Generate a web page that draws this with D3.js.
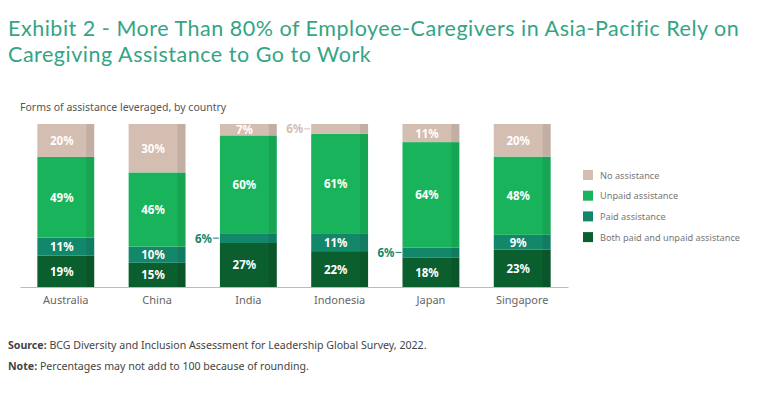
<!DOCTYPE html>
<html>
<head>
<meta charset="utf-8">
<script src="https://cdn.jsdelivr.net/npm/d3@7"></script>
<style>
  body { margin: 0; background: #fff; }
  svg { display: block; font-family: "Noto Sans", "Open Sans", sans-serif; }
</style>
</head>
<body>
<div id="chart"></div>
<script>
var countries = ["Australia", "China", "India", "Indonesia", "Japan", "Singapore"];
var seriesNames = ["Both paid and unpaid assistance", "Paid assistance", "Unpaid assistance", "No assistance"];
var bothPaidUnpaid = [19, 15, 27, 22, 18, 23];
var paid = [11, 10, 6, 11, 6, 9];
var unpaid = [49, 46, 60, 61, 64, 48];
var noAssist = [20, 30, 7, 6, 11, 20];
var colors = ["#0b5e2e", "#13876a", "#19b35c", "#d4bdb1"];

function main() {
    var width = 768, height = 398;

    var svg = d3.select("#chart")
        .append("svg")
        .attr("width", width)
        .attr("height", height);

    // title
    var title = svg.append("text")
        .attr("x", 8)
        .attr("fill", "#34a485")
        .style("font-family", "Lato, \"Noto Sans\", sans-serif")
        .style("font-size", "21.5px")
        .style("letter-spacing", "0.52px");
    title.append("tspan").attr("x", 8).attr("y", 36)
        .text("Exhibit 2 - More Than 80% of Employee-Caregivers in Asia-Pacific Rely on");
    title.append("tspan").attr("x", 8).attr("y", 62)
        .text("Caregiving Assistance to Go to Work");

    svg.append("text")
        .attr("x", 20).attr("y", 111)
        .attr("fill", "#555")
        .style("font-size", "10.5px")
        .text("Forms of assistance leveraged, by country");

    var rows = countries.map(function (c, i) {
        return { country: c, s0: bothPaidUnpaid[i], s1: paid[i], s2: unpaid[i], s3: noAssist[i] };
    });
    // each bar fills the full height (values may not add to 100 because of rounding)
    var stack = d3.stack()
        .keys(["s0", "s1", "s2", "s3"])
        .offset(d3.stackOffsetExpand)(rows);

    var x = d3.scaleBand()
        .domain(countries)
        .range([20, 568])
        .paddingInner(0.377)
        .paddingOuter(0.19);

    var y = d3.scaleLinear()
        .domain([0, 1])
        .range([287, 124]);

    var layers = svg.selectAll(".layer")
        .data(stack)
        .enter()
        .append("g")
        .attr("fill", function (d, i) { return colors[i]; });

    layers.selectAll("rect.seg")
        .data(function (d) { return d; })
        .enter()
        .append("rect")
        .attr("class", "seg")
        .attr("x", function (d) { return x(d.data.country); })
        .attr("y", function (d) { return y(d[1]); })
        .attr("width", x.bandwidth())
        .attr("height", function (d) { return y(d[0]) - y(d[1]); });

    // darker strip on the right of each bar
    layers.selectAll("rect.shade")
        .data(function (d) { return d; })
        .enter()
        .append("rect")
        .attr("class", "shade")
        .attr("x", function (d) { return x(d.data.country) + x.bandwidth() - 8; })
        .attr("y", function (d) { return y(d[1]); })
        .attr("width", 8)
        .attr("height", function (d) { return y(d[0]) - y(d[1]); })
        .attr("fill", "#000")
        .attr("opacity", 0.08);

    // labels
    stack.forEach(function (layer, li) {
        layer.forEach(function (d) {
            var v = d.data[layer.key];
            var cx = x(d.data.country);
            var cy = (y(d[0]) + y(d[1])) / 2;
            if (v >= 7) {
                svg.append("text")
                    .attr("x", cx + x.bandwidth() / 2 - 4)
                    .attr("y", cy + 4.5)
                    .attr("text-anchor", "middle")
                    .attr("fill", "#fff")
                    .style("font-size", "11.5px")
                    .style("font-weight", "bold")
                    .text(v + "%");
            } else {
                var col = colors[li];
                svg.append("line")
                    .attr("x1", cx - 7).attr("x2", cx - 1)
                    .attr("y1", cy).attr("y2", cy)
                    .attr("stroke", col);
                svg.append("text")
                    .attr("x", cx - 8)
                    .attr("y", cy + 4.5)
                    .attr("text-anchor", "end")
                    .attr("fill", col)
                    .style("font-size", "11.5px")
                    .style("font-weight", "bold")
                    .text(v + "%");
            }
        });
    });

    // baseline axis
    var xAxis = svg.append("g")
        .attr("transform", "translate(0,287)")
        .call(d3.axisBottom(x).tickSize(0).tickPadding(9));
    xAxis.select(".domain").attr("stroke", "#bbb");
    xAxis.selectAll("text")
        .attr("fill", "#666")
        .style("font-size", "11px")
        .style("font-family", "\"Noto Sans\", sans-serif");

    // legend
    var legendOrder = [3, 2, 1, 0];
    var legend = svg.selectAll(".legend")
        .data(legendOrder)
        .enter()
        .append("g")
        .attr("transform", function (d, i) { return "translate(583," + (170 + i * 20.7) + ")"; });
    legend.append("rect")
        .attr("width", 10).attr("height", 10)
        .attr("fill", function (d) { return colors[d]; });
    legend.append("text")
        .attr("x", 17).attr("y", 8.5)
        .attr("fill", "#777")
        .style("font-size", "9.2px")
        .text(function (d) { return seriesNames[d]; });

    // footer
    var src = svg.append("text").attr("x", 8).attr("y", 349)
        .attr("fill", "#444").style("font-size", "10.6px");
    src.append("tspan").style("font-weight", "bold").text("Source: ");
    src.append("tspan").text("BCG Diversity and Inclusion Assessment for Leadership Global Survey, 2022.");
    var note = svg.append("text").attr("x", 8).attr("y", 370)
        .attr("fill", "#444").style("font-size", "10.6px");
    note.append("tspan").style("font-weight", "bold").text("Note: ");
    note.append("tspan").text("Percentages may not add to 100 because of rounding.");
}

main();
</script>
</body>
</html>
